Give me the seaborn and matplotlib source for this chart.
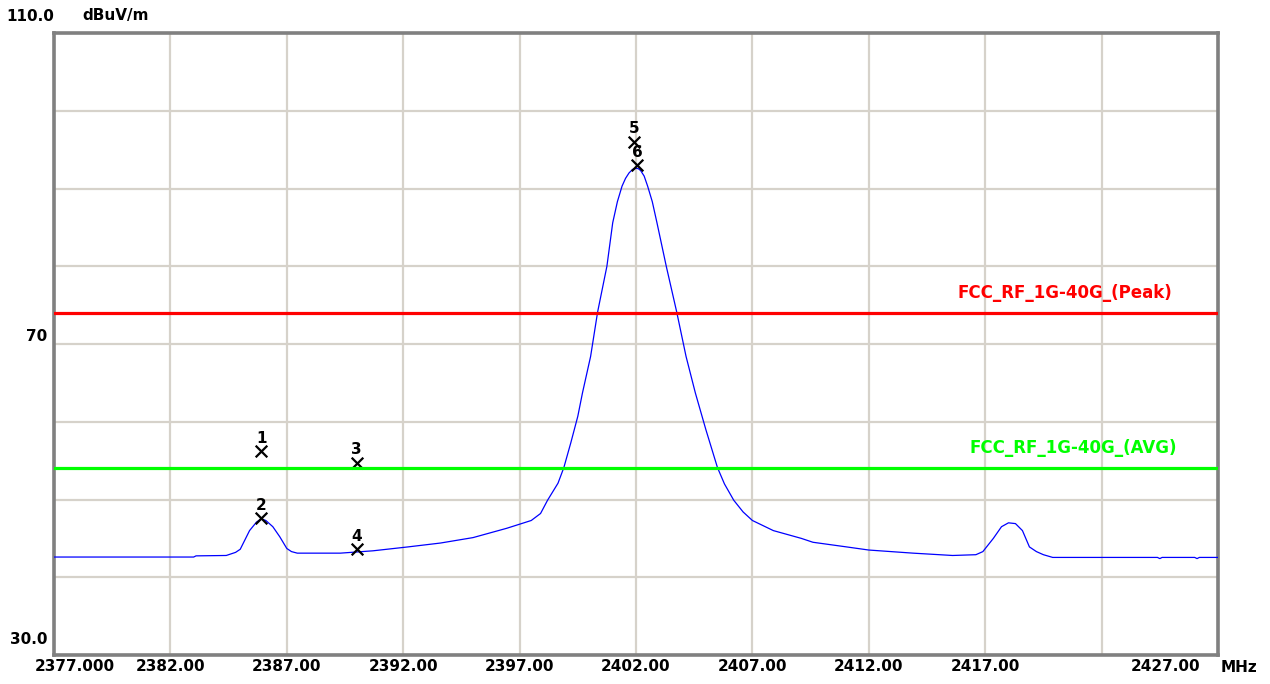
import numpy as np
import pandas as pd
import matplotlib
matplotlib.use("Agg")
import matplotlib.pyplot as plt
from matplotlib.transforms import ScaledTranslation
import seaborn as sns

# ---------------- data ----------------
freq_mhz = [2377.0, 2383.0, 2383.1, 2384.4, 2384.8, 2385.0, 2385.2, 2385.4, 2385.7, 2385.9,
            2386.1, 2386.4, 2386.7, 2387.0, 2387.2, 2387.45, 2389.3, 2390.7, 2392.2, 2393.6,
            2395.0, 2396.45, 2397.5, 2397.9, 2398.2, 2398.65, 2398.9, 2399.2, 2399.5, 2399.7,
            2400.05, 2400.35, 2400.75, 2401.0, 2401.2, 2401.4, 2401.55, 2401.7, 2401.85, 2402.0,
            2402.1, 2402.2, 2402.35, 2402.5, 2402.7, 2402.9,
            2403.3, 2403.75, 2404.15, 2404.55, 2405.0, 2405.5, 2405.8, 2406.2, 2406.6, 2407.0,
            2407.9, 2409.1, 2409.6, 2411.05, 2412.0, 2413.9, 2415.6, 2416.6, 2416.9, 2417.35,
            2417.7, 2418.0, 2418.3, 2418.6, 2418.9, 2419.2, 2419.5, 2419.9, 2424.4, 2424.5,
            2424.6, 2426.0, 2426.1, 2426.2, 2427.0]
level_dbuv = [42.6, 42.6, 42.75, 42.8, 43.2, 43.6, 44.8, 46.0, 47.1, 47.5,
              47.3, 46.5, 45.2, 43.7, 43.3, 43.1, 43.1, 43.4, 43.9, 44.4,
              45.1, 46.3, 47.3, 48.2, 49.9, 52.1, 54.1, 57.3, 60.7, 63.7,
              68.4, 74.1, 80.0, 85.6, 88.3, 90.3, 91.3, 92.0, 92.45, 92.6,
              92.55, 92.3, 91.6, 90.3, 88.3, 85.6,
              80.0, 74.1, 68.4, 63.7, 59.0, 54.1, 52.0, 49.9, 48.4, 47.3,
              46.0, 45.0, 44.5, 43.9, 43.5, 43.1, 42.8, 42.9, 43.3, 45.0,
              46.5, 47.0, 46.9, 46.0, 43.9, 43.3, 42.9, 42.55, 42.55, 42.4,
              42.55, 42.55, 42.4, 42.55, 42.55]

marker_ids = ["1", "2", "3", "4", "5", "6"]
marker_freq = [2385.9, 2385.9, 2390.0, 2390.0, 2401.9, 2402.05]
marker_level = [56.2, 47.6, 54.7, 43.6, 96.0, 93.0]

limit_names = ["FCC_RF_1G-40G_(Peak)", "FCC_RF_1G-40G_(AVG)"]
limit_levels = [74.0, 54.0]
limit_colors = ["#ff0000", "#00ff00"]
limit_label_x = [2425.03, 2425.24]

x_ticks = [2377, 2382, 2387, 2392, 2397, 2402, 2407, 2412, 2417, 2422, 2427]
x_tick_labels = ["2377.000", "2382.00", "2387.00", "2392.00", "2397.00", "2402.00",
                 "2407.00", "2412.00", "2417.00", "", "2427.00"]
y_ticks = [30, 40, 50, 60, 70, 80, 90, 100, 110]
y_tick_labels = ["30.0", "", "", "", "70", "", "", "", "110.0"]

# ---------------- style ----------------
sns.set_style("white")
plt.rcParams["font.family"] = ["DejaVu Sans"]
plt.rcParams["text.color"] = "black"
plt.rcParams["xtick.color"] = "black"
plt.rcParams["ytick.color"] = "black"

fig = plt.figure(figsize=(12.7, 6.84), dpi=100)
ax = fig.add_axes([54 / 1270, 29 / 684, 1164 / 1270, 622 / 684])

trace = pd.DataFrame({"freq": freq_mhz, "level": level_dbuv})
sns.lineplot(data=trace, x="freq", y="level", ax=ax, color="#0000ff",
             linewidth=0.9, sort=False, zorder=4)

mk = pd.DataFrame({"freq": marker_freq, "level": marker_level, "id": marker_ids})
sns.scatterplot(data=mk, x="freq", y="level", ax=ax, marker="x", color="black",
                s=70, linewidth=1.6, zorder=5)
for f, l, t in zip(marker_freq, marker_level, marker_ids):
    ax.annotate(t, (f, l), xytext=(0, 4), textcoords="offset points",
                ha="center", va="bottom", fontsize=11, fontweight="bold",
                color="black", zorder=6)

for name, lvl, c, lx in zip(limit_names, limit_levels, limit_colors, limit_label_x):
    ax.axhline(lvl, color=c, linewidth=2.3, zorder=6)
    ax.annotate(name, (lx, lvl), xytext=(0, 8), textcoords="offset points",
                ha="right", va="bottom", fontsize=12, fontweight="bold", color=c)

ax.set_xlim(2377, 2427)
ax.set_ylim(30, 110)
ax.set_xticks(x_ticks)
ax.set_xticklabels(x_tick_labels, fontsize=11, fontweight="bold", color="black")
ax.set_yticks(y_ticks)
ax.set_yticklabels(y_tick_labels, fontsize=11, fontweight="bold", color="black")
ax.tick_params(axis="both", length=0)
ax.tick_params(axis="x", pad=3)
ax.tick_params(axis="y", pad=5)
ax.set_xlabel("")
ax.set_ylabel("")

ax.grid(True, color="#d6d2ca", linewidth=1.6)
ax.set_axisbelow(True)
for s in ax.spines.values():
    s.set_color("#808080")
    s.set_linewidth(2.6)

# shift the end tick labels like the analyzer output
xl = ax.get_xticklabels()
xl[0].set_transform(xl[0].get_transform() + ScaledTranslation(21 / 100, 0, fig.dpi_scale_trans))
xl[-1].set_transform(xl[-1].get_transform() + ScaledTranslation(-52 / 100, 0, fig.dpi_scale_trans))

yl = ax.get_yticklabels()
for lab in yl:
    lab.set_va("bottom")
yl[0].set_transform(yl[0].get_transform() + ScaledTranslation(0, 8 / 100, fig.dpi_scale_trans))
yl[-1].set_transform(yl[-1].get_transform() + ScaledTranslation(7 / 100, 9 / 100, fig.dpi_scale_trans))

ax.text(1.0, 0, "MHz", transform=ax.transAxes + ScaledTranslation(3 / 100, -5 / 100, fig.dpi_scale_trans),
        ha="left", va="top", fontsize=11, fontweight="bold", color="black")
ax.text(0, 1.0, "dBuV/m", transform=ax.transAxes + ScaledTranslation(28 / 100, 10 / 100, fig.dpi_scale_trans),
        ha="left", va="bottom", fontsize=11, fontweight="bold", color="black")

fig.savefig("out.png", dpi=100)
